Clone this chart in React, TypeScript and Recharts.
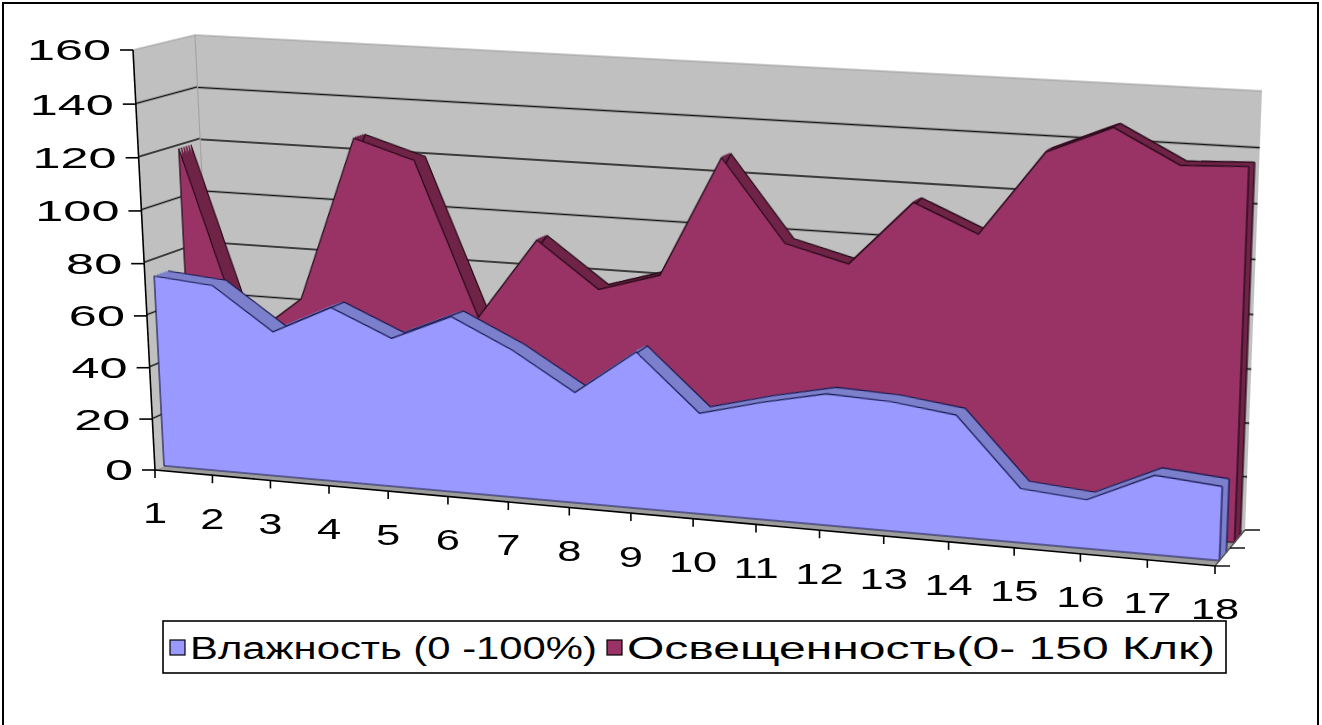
import React from "react";
import { AreaChart, Area, XAxis, YAxis, ReferenceLine } from "recharts";

// Measurements by day
const days = [1, 2, 3, 4, 5, 6, 7, 8, 9, 10, 11, 12, 13, 14, 15, 16, 17, 18];
const humidity = [74, 72, 56, 67, 57, 67, 56, 42, 59, 38, 44, 49, 48, 45, 20, 18, 29, 27];
const illumination = [119, 46, 64, 127, 120, 62, 93, 76, 83, 128, 98, 92, 116, 106, 137, 147, 135, 136];
const valueTicks = [0, 20, 40, 60, 80, 100, 120, 140, 160];
const gridValues = [20, 40, 60, 80, 100, 120, 140];
const seriesNames = ["Влажность (0 -100%)", "Освещенность(0- 150 Клк)"];

const VMAX = valueTicks[valueTicks.length - 1];
const rows = days.map((day, k) => ({ day, humidity: humidity[k], illumination: illumination[k], wall: VMAX }));
const sideRows = [{ day: 0, wall: VMAX }, { day: 1, wall: VMAX }];

const FONT = "'Liberation Sans', Arial, sans-serif";

type Pt = [number, number];

// Corners of the box in screen space: front plane and back wall (TL, TR, BR, BL)
const FRONT: Pt[] = [[133, 50], [1232, 110], [1215, 566], [155, 470]];
const BACK: Pt[] = [[195, 35], [1262, 91], [1245, 530], [215, 442]];

const lerp = (a: number, b: number, t: number) => a + (b - a) * t;
const lerpPt = (a: Pt, b: Pt, t: number): Pt => [lerp(a[0], b[0], t), lerp(a[1], b[1], t)];
const depthQuad = (t: number): Pt[] => FRONT.map((p, k) => lerpPt(p, BACK[k], t));

// unit square -> quad homography
function squareToQuad(q: Pt[]) {
  const [[x0, y0], [x1, y1], [x2, y2], [x3, y3]] = q;
  const dx1 = x1 - x2, dx2 = x3 - x2, sx = x0 - x1 + x2 - x3;
  const dy1 = y1 - y2, dy2 = y3 - y2, sy = y0 - y1 + y2 - y3;
  const den = dx1 * dy2 - dx2 * dy1;
  const g = (sx * dy2 - dx2 * sy) / den;
  const h = (dx1 * sy - sx * dy1) / den;
  return [
    [x1 - x0 + g * x1, x3 - x0 + h * x3, x0],
    [y1 - y0 + g * y1, y3 - y0 + h * y3, y0],
    [g, h, 1],
  ];
}

function project(q: Pt[], u: number, v: number): Pt {
  const m = squareToQuad(q);
  const w = m[2][0] * u + m[2][1] * v + m[2][2];
  return [(m[0][0] * u + m[0][1] * v + m[0][2]) / w, (m[1][0] * u + m[1][1] * v + m[1][2]) / w];
}

const PAD = 6;
const PW = 1060;
const PH = 420;

function planeTransform(q: Pt[], w: number, h: number) {
  const m = squareToQuad(q);
  const n = m.map((r) => [r[0] / w, r[1] / h, r[2] - (r[0] * PAD) / w - (r[1] * PAD) / h]);
  return `matrix3d(${n[0][0]},${n[1][0]},0,${n[2][0]},${n[0][1]},${n[1][1]},0,${n[2][1]},0,0,1,0,${n[0][2]},${n[1][2]},0,${n[2][2]})`;
}

function Plane({ quad, w = PW, h = PH, children }: { quad: Pt[]; w?: number; h?: number; children: React.ReactNode }) {
  return (
    <div
      style={{
        position: "absolute",
        left: 0,
        top: 0,
        width: w + 2 * PAD,
        height: h + 2 * PAD,
        transformOrigin: "0 0",
        transform: planeTransform(quad, w, h),
      }}
    >
      {children}
    </div>
  );
}

const margin = { top: PAD, right: PAD, bottom: PAD, left: PAD };

function Wall({ quad, w, xDomain, data }: { quad: Pt[]; w: number; xDomain: [number, number]; data: object[] }) {
  return (
    <Plane quad={quad} w={w}>
      <AreaChart width={w + 2 * PAD} height={PH + 2 * PAD} data={data} margin={margin}>
        <XAxis dataKey="day" type="number" domain={xDomain} hide />
        <YAxis type="number" domain={[0, VMAX]} hide />
        <Area
          type="linear"
          dataKey="wall"
          fill="#c0c0c0"
          fillOpacity={1}
          stroke="#9a9a9a"
          strokeWidth={1}
          dot={false}
          activeDot={false}
          isAnimationActive={false}
        />
        {gridValues.map((v) => (
          <ReferenceLine key={v} y={v} stroke="#111" strokeWidth={1.4} />
        ))}
      </AreaChart>
    </Plane>
  );
}

type RibbonProps = {
  dataKey: "humidity" | "illumination";
  values: number[];
  front: number;
  back: number;
  face: string;
  side: string;
  edge: string;
};

// Extruded area: darker copies stepped back in depth, then the front face
function Ribbon({ dataKey, values, front, back, face, side, edge }: RibbonProps) {
  const steps = [0.2, 0.4, 0.6, 0.8, 1];
  const last = values[values.length - 1];
  return (
    <>
      {steps.map((s) => (
        <Plane key={s} quad={depthQuad(lerp(front, back, s))}>
          <AreaChart width={PW + 2 * PAD} height={PH + 2 * PAD} data={rows} margin={margin}>
            <XAxis dataKey="day" type="number" domain={[1, 18]} hide />
            <YAxis type="number" domain={[0, VMAX]} hide />
            <Area
              type="linear"
              dataKey={dataKey}
              fill={side}
              fillOpacity={1}
              stroke={s === 1 ? edge : side}
              strokeWidth={s === 1 ? 1.2 : 2}
              dot={false}
              activeDot={false}
              isAnimationActive={false}
            />
            {s === 1 && (
              <ReferenceLine segment={[{ x: 18, y: 0 }, { x: 18, y: last }]} stroke={edge} strokeWidth={1.2} />
            )}
          </AreaChart>
        </Plane>
      ))}
      <Plane quad={depthQuad(front)}>
        <AreaChart width={PW + 2 * PAD} height={PH + 2 * PAD} data={rows} margin={margin}>
          <XAxis dataKey="day" type="number" domain={[1, 18]} hide />
          <YAxis type="number" domain={[0, VMAX]} hide />
          <Area
            type="linear"
            dataKey={dataKey}
            fill={face}
            fillOpacity={1}
            stroke={edge}
            strokeWidth={1.2}
            dot={false}
            activeDot={false}
            isAnimationActive={false}
          />
          <ReferenceLine y={0} stroke={edge} strokeWidth={1.2} />
          <ReferenceLine segment={[{ x: 1, y: 0 }, { x: 1, y: values[0] }]} stroke={edge} strokeWidth={1.2} />
          <ReferenceLine segment={[{ x: 18, y: 0 }, { x: 18, y: last }]} stroke={edge} strokeWidth={1.2} />
        </AreaChart>
      </Plane>
    </>
  );
}

const axisPt = (day: number, v: number) => project(FRONT, (day - 1) / 17, 1 - v / VMAX);

export default function App() {
  const floor = [BACK[3], BACK[2], FRONT[2], FRONT[3]];
  const sideWall = [FRONT[0], BACK[0], BACK[3], FRONT[3]];
  const a0 = axisPt(1, 0);
  const a1 = axisPt(1, VMAX);
  const b1 = axisPt(18, 0);

  return (
    <div
      style={{
        position: "absolute",
        left: 0,
        top: 0,
        width: 1322,
        height: 725,
        background: "#fff",
        overflow: "hidden",
        fontFamily: FONT,
      }}
    >
      <svg width={1322} height={725} style={{ position: "absolute", left: 0, top: 0 }}>
        <polygon points={floor.map((p) => p.join(",")).join(" ")} fill="#9c9c9c" />
      </svg>

      <Wall quad={BACK} w={PW} xDomain={[1, 18]} data={rows} />
      <Wall quad={sideWall} w={120} xDomain={[0, 1]} data={sideRows} />

      {/* corner between side wall and back wall */}
      <svg width={1322} height={725} style={{ position: "absolute", left: 0, top: 0 }}>
        <line x1={BACK[0][0]} y1={BACK[0][1]} x2={BACK[3][0]} y2={BACK[3][1]} stroke="#a4a4a4" strokeWidth={1.2} />
      </svg>

      <Ribbon dataKey="illumination" values={illumination} front={0.65} back={0.85} face="#993366" side="#6e2347" edge="#1e0612" />
      <Ribbon dataKey="humidity" values={humidity} front={0.15} back={0.38} face="#9999ff" side="#7c80cc" edge="#14144a" />

      <svg width={1322} height={725} style={{ position: "absolute", left: 0, top: 0 }}>
        <rect x={3} y={3} width={1315} height={740} fill="none" stroke="#000" strokeWidth={2} />

        {/* value axis */}
        <line x1={a0[0]} y1={a0[1]} x2={a1[0]} y2={a1[1]} stroke="#000" strokeWidth={1.6} />
        {valueTicks.map((v) => {
          const [x, y] = axisPt(1, v);
          return (
            <g key={v}>
              <line x1={x - 13} y1={y} x2={x} y2={y} stroke="#000" strokeWidth={1.6} />
              <text
                transform={`translate(${x - 22},${y}) scale(1.68,1)`}
                textAnchor="end"
                dominantBaseline="central"
                fontSize={30}
                fill="#000"
              >
                {v}
              </text>
            </g>
          );
        })}

        {/* category axis along the front floor edge */}
        <line x1={a0[0]} y1={a0[1]} x2={b1[0]} y2={b1[1]} stroke="#000" strokeWidth={1.6} />
        {days.map((d) => {
          const [x, y] = axisPt(d, 0);
          return (
            <g key={d}>
              <line x1={x} y1={y} x2={x} y2={y + 8} stroke="#000" strokeWidth={1.6} />
              <text
                transform={`translate(${x},${y + 43}) scale(1.45,1)`}
                textAnchor="middle"
                dominantBaseline="central"
                fontSize={30}
                fill="#000"
              >
                {d}
              </text>
            </g>
          );
        })}

        {/* depth axis on the right floor edge */}
        <line x1={FRONT[2][0]} y1={FRONT[2][1]} x2={BACK[2][0]} y2={BACK[2][1]} stroke="#555" strokeWidth={1.4} />
        {[0, 0.5, 1].map((t) => {
          const [x, y] = lerpPt(FRONT[2], BACK[2], t);
          return <line key={t} x1={x} y1={y} x2={x + 15} y2={y} stroke="#000" strokeWidth={1.4} />;
        })}

        {/* legend */}
        <rect x={163} y={621} width={1063} height={52} fill="#fff" stroke="#000" strokeWidth={1.6} />
        <rect x={170} y={640} width={15} height={15} fill="#9999ff" stroke="#000" strokeWidth={1.2} />
        <text x={190} y={648} dominantBaseline="central" fontSize={31} textLength={407} lengthAdjust="spacingAndGlyphs">
          {seriesNames[0]}
        </text>
        <rect x={607} y={640} width={15} height={15} fill="#993366" stroke="#000" strokeWidth={1.2} />
        <text x={627} y={648} dominantBaseline="central" fontSize={31} textLength={588} lengthAdjust="spacingAndGlyphs">
          {seriesNames[1]}
        </text>
      </svg>
    </div>
  );
}
